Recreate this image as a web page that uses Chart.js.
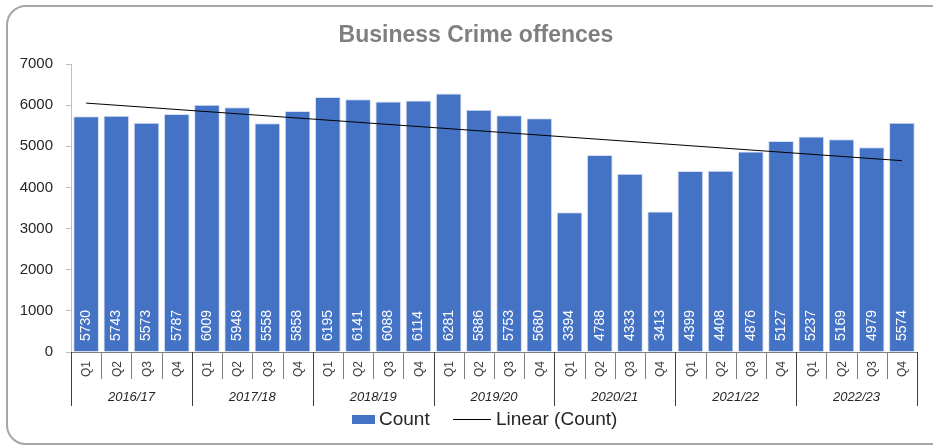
<!DOCTYPE html>
<html>
<head>
<meta charset="utf-8">
<script src="https://cdn.jsdelivr.net/npm/chart.js@4"></script>
<style>
  html, body { margin: 0; padding: 0; background: #fff; overflow: hidden; }
  #frame {
    position: absolute; left: 6px; top: 5px; width: 945px; height: 436px;
    border: 2px solid #a6a6a6; border-radius: 20px;
  }
  #wrap { position: absolute; left: 0; top: 0; width: 933px; height: 446px; }
</style>
</head>
<body>
<div id="frame"></div>
<div id="wrap"><canvas id="crimeChart" width="933" height="446"></canvas></div>
<script>
// Business crime counts per quarter
const years = ['2016/17', '2017/18', '2018/19', '2019/20', '2020/21', '2021/22', '2022/23'];
const quarters = ['Q1', 'Q2', 'Q3', 'Q4'];
const counts = [
  5730, 5743, 5573, 5787,
  6009, 5948, 5558, 5858,
  6195, 6141, 6088, 6114,
  6281, 5886, 5753, 5680,
  3394, 4788, 4333, 3413,
  4399, 4408, 4876, 5127,
  5237, 5169, 4979, 5574
];
// linear trend end values
const trendStart = 6050;
const trendEnd = 4650;

const labels = [];
years.forEach(y => quarters.forEach(q => labels.push(y + ' ' + q)));

const trendData = counts.map((v, i) => i === 0 ? trendStart : (i === counts.length - 1 ? trendEnd : null));

const BLUE = '#4472C4';

// custom drawing: title, data labels, two-level x axis, legend
const extrasPlugin = {
  id: 'extras',
  afterDatasetsDraw(chart) {
    const ctx = chart.ctx;
    const meta = chart.getDatasetMeta(1);
    ctx.save();
    ctx.fillStyle = '#ffffff';
    ctx.font = '14px "Liberation Sans", Arial, sans-serif';
    ctx.textAlign = 'left';
    ctx.textBaseline = 'middle';
    meta.data.forEach((bar, i) => {
      ctx.save();
      ctx.translate(bar.x, chart.chartArea.bottom - 11);
      ctx.rotate(-Math.PI / 2);
      ctx.fillText(String(counts[i]), 0, 0);
      ctx.restore();
    });
    ctx.restore();
  },
  afterDraw(chart) {
    const ctx = chart.ctx;
    const x = chart.scales.x;
    const area = chart.chartArea;
    const n = counts.length;
    const step = (area.right - area.left) / n;
    const base = area.bottom;

    ctx.save();
    // title
    ctx.fillStyle = '#7f7f7f';
    ctx.font = 'bold 23px "Liberation Sans", Arial, sans-serif';
    ctx.textAlign = 'center';
    ctx.textBaseline = 'middle';
    ctx.fillText('Business Crime offences', 476, 36);

    // quarter labels
    ctx.fillStyle = '#404040';
    ctx.font = '12px "Liberation Sans", Arial, sans-serif';
    for (let i = 0; i < n; i++) {
      ctx.save();
      ctx.translate(x.getPixelForValue(i) + 1, base + 17);
      ctx.rotate(-Math.PI / 2);
      ctx.textAlign = 'center';
      ctx.fillText(quarters[i % 4], 0, 0);
      ctx.restore();
    }
    // separators
    ctx.lineWidth = 1;
    for (let i = 0; i <= n; i++) {
      const px = Math.round(area.left + i * step) + 0.5;
      const major = i % 4 === 0;
      ctx.strokeStyle = major ? '#404040' : '#7f7f7f';
      ctx.beginPath();
      ctx.moveTo(px, base);
      ctx.lineTo(px, base + (major ? 54 : 27));
      ctx.stroke();
    }
    // year labels
    ctx.fillStyle = '#262626';
    ctx.font = 'italic 13px "Liberation Sans", Arial, sans-serif';
    years.forEach((y, k) => {
      const cx = area.left + (k * 4 + 2) * step;
      ctx.fillText(y, cx, base + 45);
    });

    // legend
    const ly = 419;
    ctx.fillStyle = BLUE;
    ctx.fillRect(352, ly - 4, 23, 9);
    ctx.fillStyle = '#262626';
    ctx.font = '19px "Liberation Sans", Arial, sans-serif';
    ctx.textAlign = 'left';
    ctx.fillText('Count', 379, ly + 1);
    ctx.strokeStyle = '#000000';
    ctx.beginPath();
    ctx.moveTo(453, ly + 0.5);
    ctx.lineTo(491, ly + 0.5);
    ctx.stroke();
    ctx.fillText('Linear (Count)', 496, ly + 1);
    ctx.restore();
  }
};

new Chart(document.getElementById('crimeChart').getContext('2d'), {
  data: {
    labels: labels,
    datasets: [
      {
        type: 'line',
        label: 'Linear (Count)',
        data: trendData,
        borderColor: '#000000',
        borderWidth: 1,
        pointRadius: 0,
        spanGaps: true,
        fill: false,
        order: 0
      },
      {
        type: 'bar',
        label: 'Count',
        data: counts,
        backgroundColor: BLUE,
        borderColor: '#d6e0f3',
        borderWidth: 1,
        barPercentage: 0.85,
        categoryPercentage: 1,
        order: 1
      }
    ]
  },
  options: {
    responsive: false,
    animation: false,
    devicePixelRatio: 1,
    layout: { padding: { left: 0, right: 16, top: 64, bottom: 0 } },
    plugins: {
      legend: { display: false },
      title: { display: false },
      tooltip: { enabled: false }
    },
    scales: {
      x: {
        ticks: { display: false },
        grid: { display: false },
        border: { display: true, color: '#7f7f7f', width: 1 },
        afterFit: scale => { scale.height = 94; }
      },
      y: {
        min: 0,
        max: 7000,
        ticks: {
          stepSize: 1000,
          padding: 13,
          color: '#262626',
          font: { family: '"Liberation Sans", Arial, sans-serif', size: 15 },
          callback: value => String(value)
        },
        grid: { drawOnChartArea: false, drawTicks: true, tickLength: 5, color: '#bfbfbf' },
        border: { display: true, color: '#bfbfbf', width: 1 },
        afterFit: scale => { scale.width = 71; }
      }
    }
  },
  plugins: [extrasPlugin]
});
</script>
</body>
</html>
